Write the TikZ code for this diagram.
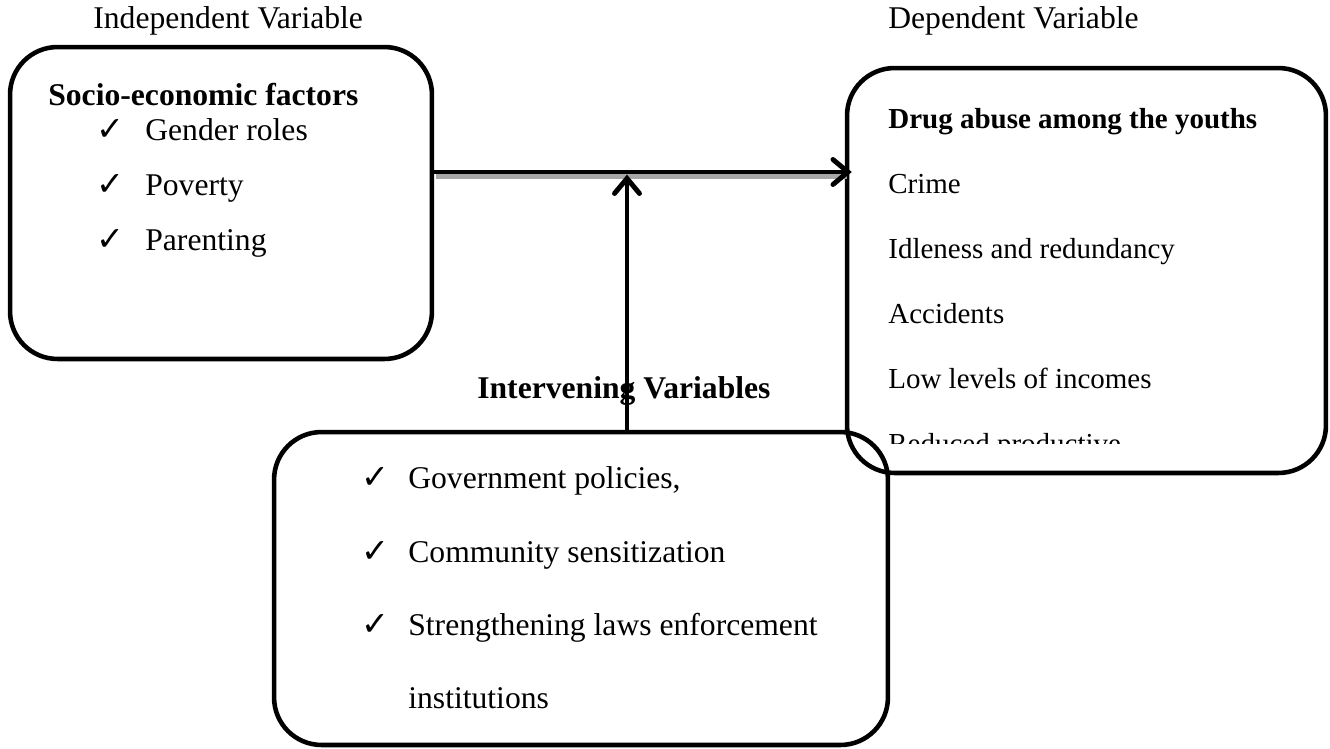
\documentclass[tikz,border=0pt]{standalone}
\usepackage{fontspec}
\setmainfont{Liberation Serif}
\newfontfamily\tickfont{DejaVu Sans}
\usetikzlibrary{arrows.meta}

\tikzset{
    varbox/.style={draw=black, line width=2.6pt, rounded corners=0.95cm, inner sep=0pt},
    txt/.style={anchor=base west, inner sep=0pt, font=\fontsize{18}{22}\selectfont},
    headtxt/.style={txt, font=\fontsize{18}{22}\selectfont\bfseries},
    smalltxt/.style={txt, font=\fontsize{16.5}{20}\selectfont},
    smallhead/.style={txt, font=\fontsize{16.5}{20}\selectfont\bfseries},
    tickmark/.style={anchor=base west, inner sep=0pt, font=\tickfont\fontsize{19}{21}\selectfont},
    link/.style={line width=2.8pt, line cap=round, -{Straight Barb[length=0.3cm,width=0.5cm,line cap=round]}},
    linkshade/.style={line width=2.8pt, black!35},
}

\begin{document}
\begin{tikzpicture}[x=0.02cm, y=-0.02cm]
    \useasboundingbox (0,0) rectangle (1330,748);

    % Cajas
    \node[varbox, minimum width=8.44cm, minimum height=6.24cm] (indep) at (221,203) {};
    \node[varbox, minimum width=9.58cm, minimum height=8.1cm] (dep) at (1086.5,270.5) {};
    \node[varbox, minimum width=12.28cm, minimum height=6.26cm] (interv) at (581,588.5) {};

    % Titulos
    \node[txt] (indeplabel) at (93,28) {Independent Variable};
    \node[txt] (deplabel) at (888,28) {Dependent Variable};

    % Variable independiente
    \node[headtxt] (socio) at (48,105) {Socio-economic factors};
    \node[tickmark] (tka) at (96,140) {✓};
    \node[txt] (gender) at (145,140) {Gender roles};
    \node[tickmark] (tkb) at (96,195) {✓};
    \node[txt] (poverty) at (145,195) {Poverty};
    \node[tickmark] (tkc) at (96,250) {✓};
    \node[txt] (parenting) at (145,250) {Parenting};

    % Variable dependiente
    \node[smallhead] (drug) at (888,128) {Drug abuse among the youths};
    \node[smalltxt] (crime) at (888,193) {Crime};
    \node[smalltxt] (idle) at (888,258) {Idleness and redundancy};
    \node[smalltxt] (accid) at (888,323) {Accidents};
    \node[smalltxt] (income) at (888,388) {Low levels of incomes};
    \begin{scope}
        \clip (860,100) rectangle (1320,443);
        \node[smalltxt] (reduced) at (888,453) {Reduced productive};
    \end{scope}

    % Variables intervinientes
    \node[headtxt] (intervlabel) at (477,398) {Intervening Variables};
    \node[tickmark] (tkd) at (361,488) {✓};
    \node[txt] (govt) at (408,488) {Government policies,};
    \node[tickmark] (tke) at (361,562) {✓};
    \node[txt] (commun) at (408,562) {Community sensitization};
    \node[tickmark] (tkf) at (361,635) {✓};
    \node[txt] (strength) at (408,635) {Strengthening laws enforcement};
    \node[txt] (instit) at (408,708) {institutions};

    % Flechas
    \coordinate (flow) at (627,172);
    \coordinate (hstart) at (indep.east |- flow);
    \coordinate (hend) at (dep.west |- flow);
    \draw[linkshade] ([xshift=1pt,yshift=-2.5pt]hstart) -- ([xshift=1pt,yshift=-2.5pt]hend);
    \draw[link, shorten >=-4pt] (hstart) -- (hend);
    \draw[link, shorten >=1.5pt] (interv.north -| flow) -- (flow);
\end{tikzpicture}
\end{document}
